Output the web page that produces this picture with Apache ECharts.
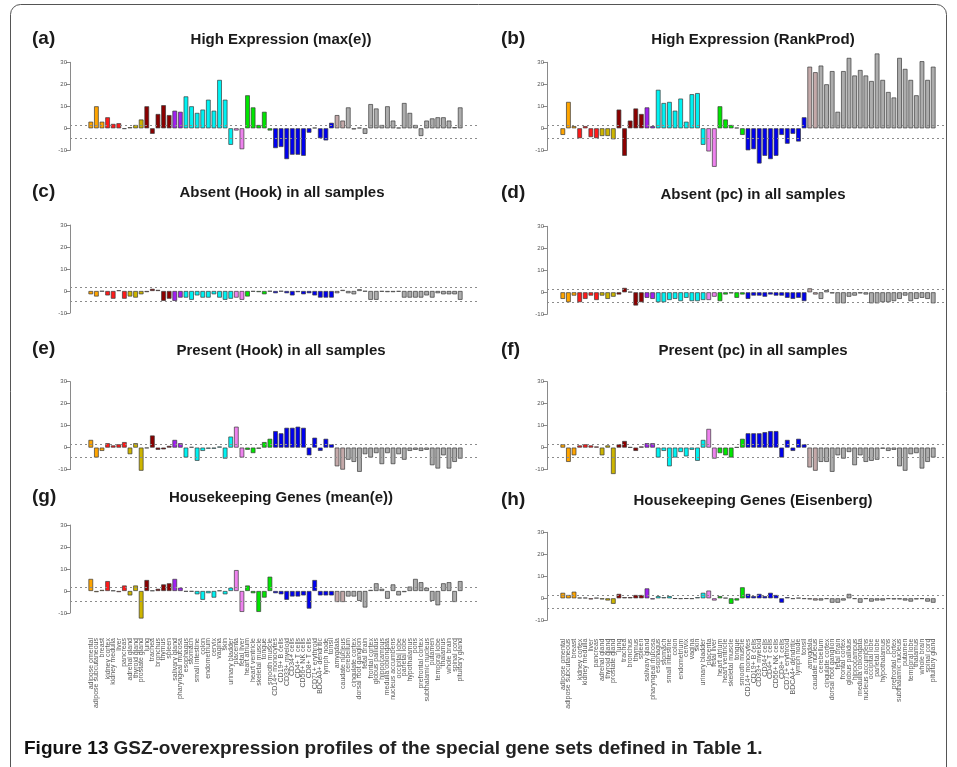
<!DOCTYPE html>
<html><head><meta charset="utf-8">
<script src="https://cdn.jsdelivr.net/npm/echarts@6/dist/echarts.min.js"></script>
<style>html,body{margin:0;padding:0;background:#fff}#c{width:957px;height:767px}</style>
</head><body><div id="c"></div>
<script>
// ---------------- data ----------------
const tissues = [
 'adipose omental','adipose subcutaneous','breast',
 'kidney cortex','kidney medulla','liver','pancreas',
 'adrenal gland','thyroid gland','prostate gland',
 'lung','trachea','bronchus','thymus','spleen',
 'salivary gland','pharyngeal mucosa',
 'esophagus','stomach','small intestine','colon','endometrium','cervix','vagina','skin','urinary bladder',
 'placenta','fetal liver',
 'heart atrium','heart ventricle','skeletal muscle','tongue','smooth muscle',
 'CD14+ monocytes','CD19+ B cells','CD33+ myeloid','CD34+ cells','CD4+ T cells','CD56+ NK cells','CD8+ T cells','CD71+ erythroid','BDCA4+ dendritic','lymph node','tonsil',
 'amygdala','caudate nucleus','cerebellum','cingulate cortex','dorsal root ganglion','fetal brain','frontal cortex','globus pallidus','hippocampus','medulla oblongata','nucleus accumbens','occipital lobe','parietal lobe','hypothalamus','pons','prefrontal cortex','subthalamic nucleus','putamen','temporal lobe','thalamus','whole brain','spinal cord','pituitary gland'
];
const groupSizes  = [3, 4, 3, 5, 2, 9, 2, 5, 11, 2, 21];
const yTicks = [-10, 0, 10, 20, 30];
const thresholds = [1.5, -4.5];
const panelLetters = ['(a)','(b)','(c)','(d)','(e)','(f)','(g)','(h)'];
const panelTitles = [
 'High Expression (max(e))','High Expression (RankProd)',
 'Absent (Hook) in all samples','Absent (pc) in all samples',
 'Present (Hook) in all samples','Present (pc) in all samples',
 'Housekeeping Genes (mean(e))','Housekeeping Genes (Eisenberg)'
];
const valsA = [3,10,3, 5,2,2.3,-0.3, 0.5,1.5,4, 10,-2.5,6.5,10.5,6, 8,7.5, 14.5,10,7,8.5,13,8,22,13,-7.5, -1,-9.5, 15,9.5,1.5,7.5,-1, -9,-8.5,-14,-12,-12,-12.5,-2,0.3,-4.5,-5.5,2.5, 6,3.5,9.5,-0.5,0.3,-2.5,11,9,1.5,10,3.5,0.3,11.5,7,1.5,-3.5,3.5,4.5,5,5,3.5,0.5,9.5];
const valsB = [-3,12,1, -4.5,1,-4,-4.5, -3.5,-3.5,-5, 8.5,-12.5,3.5,9,6.5, 9.5,1, 17.5,11.5,12,8,13.5,3,15.5,16,-7.5, -10.5,-17.5, 10,4,1.5,0.3,-3, -10,-9.5,-16,-12.5,-14,-12.5,-3,-7,-2.5,-6,5, 28,25.5,28.5,20,26,7.5,26,32,24,26.5,24,21.5,34,22,16.5,14,32,27,22,15,30.5,22,28];
const valsC = [-1.5,-2.5,-0.2, -2,-3.5,0.3,-3.5, -2.5,-3,-1.5, -0.5,1,0.5,-4.5,-3.5, -4.5,-3, -3,-4,-2,-3,-3,-1.5,-3,-4,-3.5, -3,-4, -2.5,-0.3,-0.5,-1.5,-0.2, -1,-0.2,-1,-2,-0.5,-1.5,-1,-2,-3,-3,-3, -1,0.5,-1,-1.5,0.8,-0.2,-4,-4,-0.3,-0.5,-0.5,-0.3,-3,-3,-3,-3,-2,-3,-1,-1.5,-1.5,-1.5,-4];
const valsD = [-3,-4.5,-1.5, -4.5,-3,-1.5,-3.5, -1.5,-3,-2, -1,2,0.2,-6,-4.5, -2.5,-3, -4.5,-4.5,-3.5,-3,-4,-2.5,-4,-4,-3.5, -3.5,-2, -4,-1,-0.5,-2.5,-1, -3,-1.5,-1.5,-2,-1,-1.5,-1.5,-2.5,-3,-2.5,-4, 1.8,-1,-3,1,-0.5,-5,-5,-2,-1.5,-0.5,-1,-5,-5,-4.5,-4.5,-4,-3,-1.5,-4,-3,-2.5,-3,-5];
const valsE = [3.5,-4.5,-1.5, 2,1,1.5,2.5, -3,2,-10.5, -0.3,5.5,-1,-0.8,0.8, 3.5,2, -4.5,0.3,-6,-1.5,-0.5,-0.5,0.5,-5,5, 9.5,-4.5, -1,-2.5,-0.5,2.5,4, 7.5,6.5,9,9,9.5,9,-3.5,4.5,-1.5,4,1.5, -8.5,-10,-5.5,-6.5,-11,-3,-4.5,-2.5,-7.5,-2.5,-7.5,-3,-5.5,-1.5,-1,-1.5,-1,-8,-9.5,-3.5,-9.5,-6.5,-5];
const valsF = [1.5,-6.5,-3.5, 1,1.5,1,0.5, -3.5,1,-12, 1.5,3,0.2,-1.5,0.5, 2,2, -4.5,-1.5,-8.5,-4.5,-2,-4,-1,-6,3.5, 8.5,-5, -2.5,-3.5,-4.5,0.2,4, 6.5,6.5,6.5,7,7.5,7.5,-4.5,3.5,-1.5,4,1.5, -9,-10.5,-6.5,-6.5,-11,-3.5,-5,-2,-8,-3.5,-6.5,-6,-5.5,-0.5,-1.5,-1,-8.5,-10.5,-3,-2.5,-9.5,-6.5,-4.5];
const valsG = [5.5,-0.5,0.5, 4.5,0.2,-0.5,2.5, -2,2.5,-12.5, 5,0.2,1,3,3.5, 5.5,1.5, -0.3,-0.3,-1.5,-4,-1,-3,0.2,-1.5,1.5, 9.5,-9.5, 2.5,-1,-9.5,-3,6.5, -1,-1.5,-4,-2.5,-2.5,-2,-8,5,-2,-2,-2, -5,-5,-2.5,-2.5,-4.5,-7.5,0.5,3.5,1,-3.5,3,-2,-0.5,2,5.5,4,1.5,-4.5,-6.5,3.5,4,-5,4.5];
const valsH = [2.5,1.5,3, 0.3,0.3,-0.5,0.2, -0.5,-1,-2.5, 2,0.5,0.5,1.5,1.5, 4.5,-0.5, 1,0.5,1,-0.2,-0.3,-0.2,-0.3,0.5,2.5, 3.5,-1, 1,0.2,-2.5,-1,5, 2,1,2,1,2.5,1.5,-2,0.5,-0.3,0.2,-0.3, -0.5,-1,-1,-0.3,-2,-2,-1,2,-0.3,-2,-0.3,-1.5,-1,-1,-0.3,-0.5,-0.5,-1,-1.5,-0.5,-0.3,-1.5,-2];
const allVals = [valsA, valsB, valsC, valsD, valsE, valsF, valsG, valsH];

// ---------------- styles / layout ----------------
const groupColors = ['#FFA500','#FF1A1A','#CDB500','#8B0000','#A020F0','#00F2F2','#EE82EE','#00E600','#0000EE','#C4A9A9','#ADADAD'];
const colorIdx = [];
groupSizes.forEach((n, g) => { for (let i = 0; i < n; i++) colorIdx.push(g); });

const K = 2.2; // px per unit
const layout = [
  {ax:70,  bl:88,  bw:375, lr:480, z:128.3, ymin:-20, lx:27,  ly:36,  tx:276, ty:36},
  {ax:547, bl:560, bw:376, lr:944, z:128.3, ymin:-20, lx:496, ly:36,  tx:748, ty:36},
  {ax:70,  bl:88,  bw:375, lr:480, z:291,   ymin:-20, lx:27,  ly:189, tx:277, ty:189},
  {ax:547, bl:560, bw:376, lr:944, z:292.3, ymin:-20, lx:496, ly:190, tx:748, ty:191},
  {ax:70,  bl:88,  bw:375, lr:480, z:447.6, ymin:-20, lx:27,  ly:346, tx:276, ty:347},
  {ax:547, bl:560, bw:376, lr:944, z:447.6, ymin:-20, lx:496, ly:347, tx:748, ty:347},
  {ax:70,  bl:88,  bw:375, lr:480, z:591,   ymin:-20, lx:27,  ly:494, tx:276, ty:494},
  {ax:547, bl:560, bw:376, lr:944, z:598.3, ymin:-17, lx:496, ly:497, tx:748, ty:497}
];

const grids = [], xAxes = [], yAxes = [], series = [], titles = [];
layout.forEach((L, p) => {
  const showLab = p >= 6;
  grids.push({left:L.bl, width:L.bw, top:L.z - 40*K, height:(40 - L.ymin)*K, containLabel:false, outerBoundsMode:'none'});
  xAxes.push({type:'category', gridIndex:2*p, data:tissues, show:showLab,
    axisLine:{show:false}, axisTick:{show:false},
    axisLabel:{show:showLab, rotate:90, interval:0, fontSize:7, color:'#5a5a5a', margin:3, fontFamily:'Liberation Sans'}});
  yAxes.push({type:'value', gridIndex:2*p, min:L.ymin, max:40, show:false});
  grids.push({left:L.ax, width:L.lr - L.ax, top:L.z - 30*K, height:40*K, containLabel:false, outerBoundsMode:'none'});
  xAxes.push({type:'value', gridIndex:2*p+1, min:0, max:1, show:false});
  yAxes.push({type:'value', gridIndex:2*p+1, min:yTicks[0], max:yTicks[yTicks.length-1], interval:10,
    axisLine:{show:true, lineStyle:{color:'#8a8a8a', width:1}},
    axisTick:{show:true, length:4, lineStyle:{color:'#8a8a8a'}},
    axisLabel:{fontSize:6, color:'#555', margin:3, fontFamily:'Liberation Sans'},
    splitLine:{show:false}});
  series.push({type:'bar', xAxisIndex:2*p, yAxisIndex:2*p, silent:true, animation:false,
    barCategoryGap:'17%',
    data: allVals[p].map((v, j) => ({value:v, itemStyle:{color:groupColors[colorIdx[j]]}})),
    itemStyle:{borderColor:'#3a3a3a', borderWidth:0.7}});
  series.push({type:'line', xAxisIndex:2*p+1, yAxisIndex:2*p+1, silent:true, animation:false,
    data:[[0,0],[1,0]], symbol:'none', lineStyle:{opacity:0},
    markLine:{silent:true, symbol:['none','none'], label:{show:false}, animation:false,
      lineStyle:{type:[2,3], color:'#8c8c8c', width:1},
      data: thresholds.map(t => ({yAxis:t}))}});
  titles.push({text:panelLetters[p], left:L.lx, top:L.ly - 12,
    textStyle:{fontSize:19, fontWeight:'bold', color:'#1a1a1a', fontFamily:'Liberation Sans'}});
  titles.push({text:panelTitles[p], left:L.tx, top:L.ty - 9, textAlign:'center',
    textStyle:{fontSize:15, fontWeight:'bold', color:'#1a1a1a', fontFamily:'Liberation Sans'}});
});
titles.push({
  text:'{b|Figure 13} {s|GSZ-overexpression profiles of the special gene sets defined in Table 1.}',
  left:19, top:734,
  textStyle:{rich:{
    b:{fontSize:19, fontWeight:'bold', color:'#111', fontFamily:'Liberation Sans Narrow, Liberation Sans'},
    s:{fontSize:19, fontWeight:'bold', color:'#222', fontFamily:'Liberation Sans Narrow, Liberation Sans'}
  }}
});

const chart = echarts.init(document.getElementById('c'), null, {renderer:'canvas'});
chart.setOption({
  animation:false,
  backgroundColor:'#fff',
  title:titles,
  grid:grids, xAxis:xAxes, yAxis:yAxes, series:series,
  graphic:[{type:'rect', silent:true, shape:{x:10.5, y:4.5, width:936, height:800, r:10},
    style:{fill:'none', stroke:'#555', lineWidth:1}}]
});
</script></body></html>
